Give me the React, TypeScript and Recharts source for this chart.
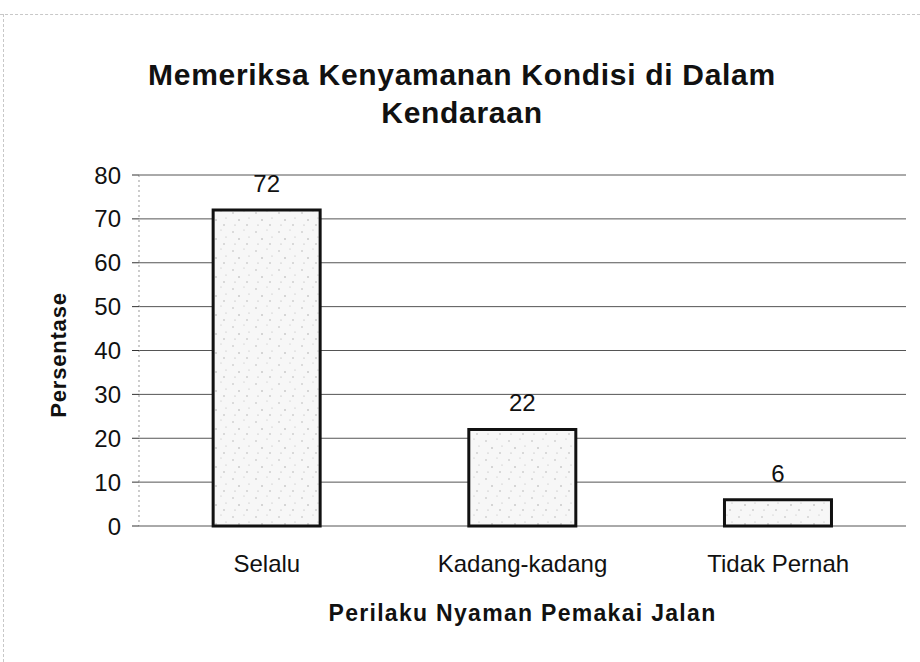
import React from 'react';
import { BarChart, Bar, XAxis, YAxis, CartesianGrid, LabelList, Label } from 'recharts';

const categories = ['Selalu', 'Kadang-kadang', 'Tidak Pernah'];
const values = [72, 22, 6];
const yTicks = [0, 10, 20, 30, 40, 50, 60, 70, 80];
const title = ['Memeriksa Kenyamanan Kondisi di Dalam', 'Kendaraan'];
const xTitle = 'Perilaku Nyaman Pemakai Jalan';
const yTitle = 'Persentase';

const data = categories.map((c, i) => ({ name: c, value: values[i] }));

const FONT = 'Arial, "Liberation Sans", Helvetica, sans-serif';

export default function App() {
  return (
    <div style={{ position: 'absolute', left: 0, top: 0, width: 920, height: 662, background: '#fff', fontFamily: FONT, overflow: 'hidden' }}>
      <div style={{ position: 'absolute', left: 0, top: 14, width: 920, borderTop: '1px dashed #c8c8c8' }} />
      <div style={{ position: 'absolute', left: 3, top: 14, height: 648, borderLeft: '1px dashed #c8c8c8' }} />
      <div style={{ position: 'absolute', left: 0, top: 56, width: 924, textAlign: 'center', fontSize: 30, fontWeight: 'bold', lineHeight: '38px', color: '#111', letterSpacing: 0.7 }}>
        <div>{title[0]}</div>
        <div>{title[1]}</div>
      </div>
      <BarChart
        width={920}
        height={662}
        data={data}
        margin={{ top: 175, right: 14, bottom: 106, left: 0 }}
        barCategoryGap="29%"
        style={{ position: 'absolute', left: 0, top: 0 }}
      >
        <defs>
          <pattern id="stipple" width="23" height="19" patternUnits="userSpaceOnUse">
            <rect width="23" height="19" fill="#f7f7f7" />
            <circle cx="3" cy="4" r="0.7" fill="#aaa" />
            <circle cx="14" cy="2" r="0.6" fill="#bbb" />
            <circle cx="9" cy="11" r="0.7" fill="#999" />
            <circle cx="19" cy="9" r="0.6" fill="#b5b5b5" />
            <circle cx="5" cy="16" r="0.6" fill="#aaa" />
            <circle cx="17" cy="16" r="0.7" fill="#a5a5a5" />
          </pattern>
        </defs>
        <CartesianGrid vertical={false} stroke="#555" strokeWidth={1} />
        <XAxis
          dataKey="name"
          height={30}
          axisLine={false}
          tickLine={false}
          tickSize={0}
          tickMargin={29}
          tick={{ fill: '#111', fontSize: 24, fontFamily: FONT }}
          interval={0}
        >
          <Label
            content={(props: any) => {
              const vb = props.viewBox || {};
              const cx = (vb.x ?? 139) + (vb.width ?? 767) / 2;
              return (
                <text x={cx} y={621} textAnchor="middle" fontSize={23} fontWeight="bold" fill="#111" fontFamily={FONT} letterSpacing={1.3}>
                  {xTitle}
                </text>
              );
            }}
          />
        </XAxis>
        <YAxis
          width={139}
          domain={[0, 80]}
          ticks={yTicks}
          interval={0}
          tickSize={7}
          tickMargin={11}
          axisLine={{ stroke: '#999', strokeDasharray: '2 3' }}
          tickLine={{ stroke: '#333' }}
          tick={{ fill: '#111', fontSize: 24, fontFamily: FONT }}
        >
          <Label
            content={() => (
              <text x={58} y={355} transform="rotate(-90 58 355)" textAnchor="middle" dominantBaseline="central" fontSize={22} fontWeight="bold" fill="#111" fontFamily={FONT} letterSpacing={0.8}>
                {yTitle}
              </text>
            )}
          />
        </YAxis>
        <Bar dataKey="value" fill="url(#stipple)" stroke="#111" strokeWidth={3} isAnimationActive={false}>
          <LabelList dataKey="value" position="top" offset={18} fill="#111" fontSize={24} fontFamily={FONT} />
        </Bar>
      </BarChart>
    </div>
  );
}
